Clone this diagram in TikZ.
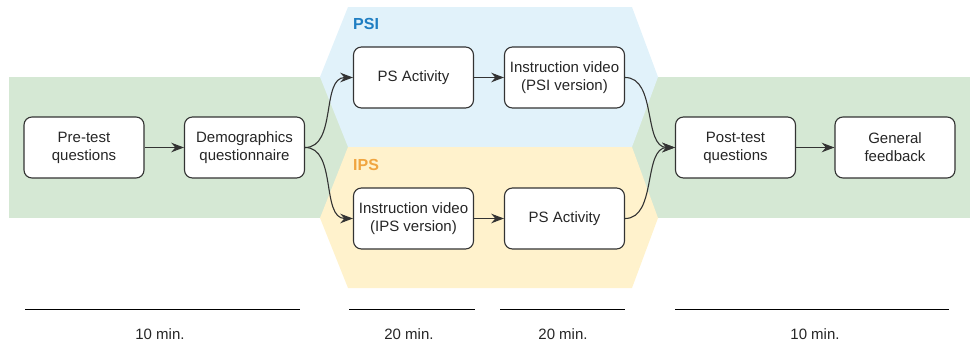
\documentclass[tikz,border=0pt]{standalone}
\usepackage{fontspec}
\setmainfont{Liberation Sans}
\usetikzlibrary{arrows.meta}
\definecolor{bandgreen}{HTML}{D5E8D4}
\definecolor{psiblue}{HTML}{E1F2FA}
\definecolor{ipsyellow}{HTML}{FFF2CC}
\definecolor{psitext}{HTML}{1F7EC2}
\definecolor{ipstext}{HTML}{F0A540}
\definecolor{edge}{HTML}{333333}
\tikzset{
  stage/.style={draw=edge, line width=1.1pt, fill=white, rounded corners=8pt,
    minimum width=120pt, minimum height=61pt, align=center, inner sep=0pt,
    text=black!85, font=\fontsize{15}{18}\selectfont},
  flow/.style={draw=edge, line width=1.1pt, -{Stealth[scale=1.6]}},
  grouplabel/.style={font=\fontsize{16}{19}\selectfont\bfseries, anchor=west, inner sep=0pt},
  timeline/.style={draw=black, line width=1pt},
  duration/.style={font=\fontsize{15}{18}\selectfont, anchor=base, inner sep=0pt, text=black!85}
}
\begin{document}
\begin{tikzpicture}[x=1pt, y=1pt]
\useasboundingbox (0,-343) rectangle (970,0);

% background band and the two condition hexagons
\fill[bandgreen] (9,-77) rectangle (970,-218);
\fill[psiblue] (348,-7) -- (632,-7) -- (658,-77) -- (632,-147) -- (348,-147) -- (320,-77) -- cycle;
\fill[ipsyellow] (348,-147) -- (632,-147) -- (658,-218) -- (632,-288) -- (348,-288) -- (320,-218) -- cycle;

\node[grouplabel, text=psitext] (psilbl) at (353,-23.5) {PSI};
\node[grouplabel, text=ipstext] (ipslbl) at (353,-165) {IPS};

% stages
\node[stage] (pre)  at (84,-147.5)   {Pre-test\\questions};
\node[stage] (demo) at (244.5,-147.5) {Demographics\\questionnaire};
\node[stage] (psa1) at (413.5,-77.5) {PS Activity};
\node[stage] (vid1) at (564.5,-77.5) {Instruction video\\(PSI version)};
\node[stage] (vid2) at (413.5,-218.5)  {Instruction video\\(IPS version)};
\node[stage] (psa2) at (564.5,-218.5)  {PS Activity};
\node[stage] (post) at (735.5,-147.5) {Post-test\\questions};
\node[stage] (gen)  at (895,-147.5)  {General\\feedback};

% connectors
\draw[flow] (pre) -- (demo);
\draw[flow] (demo.east) .. controls +(32,0) and +(-32,0) .. (psa1.west);
\draw[flow] (demo.east) .. controls +(32,0) and +(-32,0) .. (vid2.west);
\draw[flow] (psa1) -- (vid1);
\draw[flow] (vid2) -- (psa2);
\draw[flow] (vid1.east) .. controls +(32,0) and +(-32,0) .. (post.west);
\draw[flow] (psa2.east) .. controls +(32,0) and +(-32,0) .. (post.west);
\draw[flow] (post) -- (gen);

% time spans
\coordinate (t1a) at (25,-309);  \coordinate (t1b) at (300,-309);
\coordinate (t2a) at (349,-309); \coordinate (t2b) at (475,-309);
\coordinate (t3a) at (500,-309); \coordinate (t3b) at (625,-309);
\coordinate (t4a) at (675,-309); \coordinate (t4b) at (949,-309);
\draw[timeline] (t1a) -- (t1b);
\draw[timeline] (t2a) -- (t2b);
\draw[timeline] (t3a) -- (t3b);
\draw[timeline] (t4a) -- (t4b);
\node[duration] (d1) at (160,-339) {10 min.};
\node[duration] (d2) at (409,-339) {20 min.};
\node[duration] (d3) at (563,-339) {20 min.};
\node[duration] (d4) at (815,-339) {10 min.};
\end{tikzpicture}
\end{document}
